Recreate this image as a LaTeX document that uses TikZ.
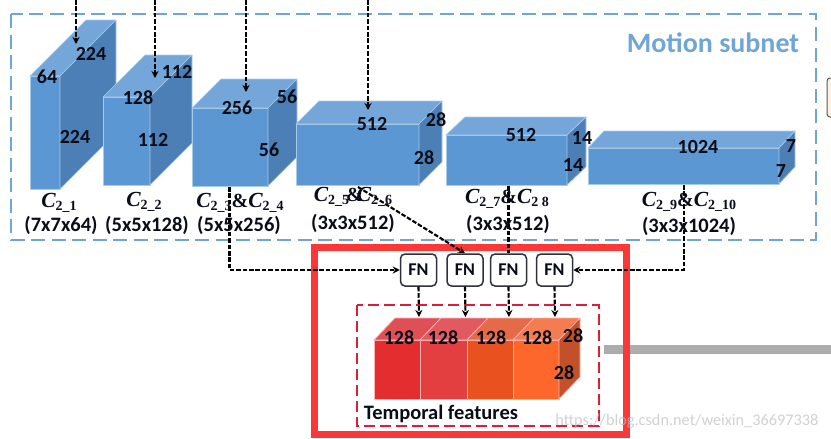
\documentclass[tikz,border=0pt]{standalone}
\usepackage{fontspec}
\setmainfont{Carlito}
\newfontfamily\cfont{Liberation Serif}
\usetikzlibrary{arrows.meta}
\definecolor{bfront}{HTML}{5A97D3}
\definecolor{btop}{HTML}{74A6DA}
\definecolor{bside}{HTML}{4C7FB5}
\definecolor{bedge}{HTML}{A9CBEA}
\definecolor{bdash}{HTML}{6FA6D6}
\definecolor{ink}{HTML}{0A0D18}
\definecolor{redbox}{HTML}{FB3838}
\definecolor{reddash}{HTML}{DC1E3C}
\tikzset{
  x=1pt,y=-1pt,
  num/.style={font=\fontsize{20}{20}\selectfont\bfseries,text=ink,inner sep=0pt},
  captext/.style={font=\fontsize{20.5}{20.5}\selectfont\bfseries,text=ink,inner sep=0pt},
  conn/.style={draw=black,line width=2.1pt,dash pattern=on 4.6pt off 1.8pt},
  tipped/.style={conn,-{Stealth[length=7pt,width=7pt]}},
  fn/.style={draw=ink!85,line width=1.5pt,rounded corners=4.5pt,fill=white,minimum width=36pt,minimum height=32pt,inner sep=0pt,
    font=\fontsize{18}{18}\selectfont\bfseries,text=ink},
  face/.style={line width=.7pt,line join=round}
}
\newcommand{\cuboid}[9]{%
  % x0 y0 x1 y1 dx dy front top side
  \filldraw[face,draw=bedge,fill=#7] (#1,#2) rectangle (#3,#4);
  \filldraw[face,draw=bedge,fill=#8] (#1,#2) -- ++(#5,-#6) -- ++({#3-#1},0) -- (#3,#2) -- cycle;
  \filldraw[face,draw=bedge,fill=#9] (#3,#2) -- ++(#5,-#6) -- ++(0,{#4-#2}) -- (#3,#4) -- cycle;
}
\newcommand{\clab}[1]{{\cfont\fontsize{21.5}{21.5}\selectfont\bfseries\itshape C}\raisebox{-3.5pt}{\fontsize{14}{14}\selectfont\bfseries\cfont #1}}
\newcommand{\amp}{{\cfont\fontsize{20}{20}\selectfont\&}}
\begin{document}
\begin{tikzpicture}
\path[use as bounding box] (0,0) rectangle (831,439);
\clip (0,0) rectangle (831,439);
\fill[white] (0,0) rectangle (831,439);

% outer shapes
\draw[bdash,line width=2pt,dash pattern=on 14pt off 6.5pt] (11,14) rectangle (816,240);
\fill[gray!65] (604,345) rectangle (831,354);
\filldraw[draw=black!65,fill=orange!12,line width=1pt,rounded corners=3pt] (827,78) rectangle (850,117);

% cuboids
\cuboid{30}{76}{60}{189}{56}{56}{bfront}{btop}{bside}
\cuboid{103}{97}{150}{185}{42}{42}{bfront}{btop}{bside}
\cuboid{192}{108}{268}{186}{29}{29}{bfront}{btop}{bside}
\cuboid{296}{124}{419}{185}{23}{23}{bfront}{btop}{bside}
\cuboid{446}{135}{567}{185}{19}{18}{bfront}{btop}{bside}
\cuboid{588}{148}{779}{184}{16}{17}{bfront}{btop}{bside}

% named ends of connectors
\coordinate (in1) at (76,0);   \coordinate (hit1) at (76,44);
\coordinate (in2) at (155,0);  \coordinate (hit2) at (155,78);
\coordinate (in3) at (246,0);  \coordinate (hit3) at (246,92);
\coordinate (in4) at (368,0);  \coordinate (hit4) at (368,110);
\coordinate (out1) at (229.5,187);
\coordinate (out2) at (358,187);
\coordinate (out3) at (508.5,186);
\coordinate (out4) at (684,185);

\draw[tipped] (in1) -- (hit1);
\draw[tipped] (in2) -- (hit2);
\draw[tipped] (in3) -- (hit3);
\draw[tipped] (in4) -- (hit4);

% red frames
\draw[redbox,line width=7pt] (314.5,247.5) rectangle (626.5,434);
\draw[reddash,line width=2pt,dash pattern=on 11pt off 5pt] (357,305) rectangle (599,426);

% temporal cube
\definecolor{t1}{HTML}{E42D2E}\definecolor{t1t}{HTML}{DF5056}
\definecolor{t2}{HTML}{E43F40}\definecolor{t2t}{HTML}{E05A60}
\definecolor{t3}{HTML}{E9511F}\definecolor{t3t}{HTML}{E56A47}
\definecolor{t4}{HTML}{FD672B}\definecolor{t4t}{HTML}{F57C50}
\definecolor{tside}{HTML}{C2512A}
\foreach \xa/\xb/\cf/\ct in {374/420/t1/t1t,420/467/t2/t2t,467/513/t3/t3t,513/559/t4/t4t}{
  \filldraw[face,draw=white!70!red,fill=\cf] (\xa,340) rectangle (\xb,399);
  \filldraw[face,draw=white!70!red,fill=\ct] (\xa,340) -- ++(21,-22) -- ++({\xb-\xa},0) -- (\xb,340) -- cycle;
}
\filldraw[face,draw=white!70!red,fill=tside] (559,340) -- (580,318) -- (580,377) -- (559,399) -- cycle;

% FN nodes
\node[fn] (fn1) at (418.5,270) {FN};
\node[fn] (fn2) at (465,270) {FN};
\node[fn] (fn3) at (508.5,270) {FN};
\node[fn] (fn4) at (554.5,270) {FN};
\coordinate (t1) at (419,317);
\coordinate (t2) at (465.5,317);
\coordinate (t3) at (509,317);
\coordinate (t4) at (555,317);

\draw[tipped] (out1) |- (fn1.west);
\draw[tipped] (out2) -- (fn2.north);
\draw[conn] (out3) -- (fn3.north);
\draw[tipped] (out4) |- (fn4.east);
\draw[tipped] (fn1.south) -- (t1);
\draw[tipped] (fn2.south) -- (t2);
\draw[tipped] (fn3.south) -- (t3);
\draw[tipped] (fn4.south) -- (t4);

% dimensions
\node[num] (a1) at (91,54) {224};
\node[num] (a2) at (47,77) {64};
\node[num] (a3) at (75,137) {224};
\node[num] (b1) at (138,98) {128};
\node[num] (b2) at (177,72) {112};
\node[num] (b3) at (153,140) {112};
\node[num] (c1) at (237,108) {256};
\node[num] (c2) at (287,97) {56};
\node[num] (c3) at (269,150) {56};
\node[num] (d1) at (372,124) {512};
\node[num] (d2) at (436,120) {28};
\node[num] (d3) at (424,158) {28};
\node[num] (e1) at (521,135) {512};
\node[num] (e2) at (582,138) {14};
\node[num] (e3) at (573,165) {14};
\node[num] (f1) at (698,147) {1024};
\node[num] (f2) at (791,146) {7};
\node[num] (f3) at (781,171) {7};
\node[num] (g1) at (399,338) {128};
\node[num] (g2) at (443,338) {128};
\node[num] (g3) at (491,338) {128};
\node[num] (g4) at (537,338) {128};
\node[num] (g5) at (573,336) {28};
\node[num] (g6) at (564,373) {28};

% layer captions
\node[captext] (l1) at (59,203) {\clab{2\_1}};
\node[captext] (s1) at (61,225) {(7x7x64)};
\node[captext] (l2) at (144,202) {\clab{2\_2}};
\node[captext] (s2) at (147,225) {(5x5x128)};
\node[captext] (l3) at (240,203) {\clab{2\_3}\amp\clab{2\_4}};
\node[captext] (s3) at (239,225) {(5x5x256)};
\node[captext] (l4) at (353,197) {\clab{2\_5}\kern-3pt\amp\kern-6pt\clab{2\_6}};
\node[captext] (s4) at (353,223) {(3x3x512)};
\node[captext] (l5) at (507,199) {\clab{2\_7}\amp\clab{2\ 8}};
\node[captext] (s5) at (508,224) {(3x3x512)};
\node[captext] (l6) at (689,202) {\clab{2\_9}\amp\clab{2\_10}};
\node[captext] (s6) at (689,226) {(3x3x1024)};

\node[inner sep=0pt,font=\fontsize{28}{28}\selectfont\bfseries,text=bdash] (title) at (713,43) {Motion subnet};
\node[captext] (temporal) at (441,414) {Temporal features};
\node[inner sep=0pt,font=\fontsize{16.3}{16.3}\selectfont,text=black!25,opacity=.7] (mark) at (687,421) {https://blog.csdn.net/weixin\_36697338};
\end{tikzpicture}
\end{document}
